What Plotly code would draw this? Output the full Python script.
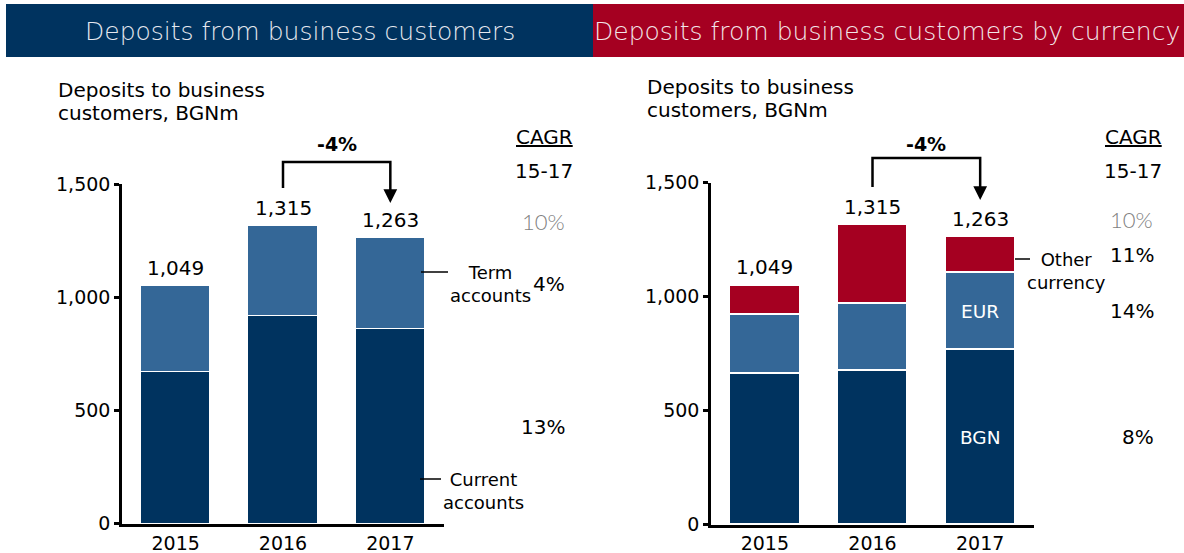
import plotly.graph_objects as go

W, H = 1184, 553

# ---- data -------------------------------------------------------------
years = ["2015", "2016", "2017"]

# left panel: by account type (BGNm)
current_accounts = [671, 918, 858]
term_accounts = [378, 397, 405]

# right panel: by currency (BGNm)
bgn = [660, 675, 766]
eur = [260, 293, 339]
other_currency = [129, 347, 158]

y_ticks = [0, 500, 1000, 1500]
change_label = "-4%"
cagr_left = ["10%", "4%", "13%"]          # total, term, current
cagr_right = ["10%", "11%", "14%", "8%"]  # total, other, EUR, BGN

# ---- styling ----------------------------------------------------------
NAVY = "#00335f"
MIDBLUE = "#346797"
RED = "#a50021"
TXT = "DejaVu Sans"
BAR_W = 0.644


def px(x):
    return x / W


def py(y):
    return 1 - y / H


xs = list(range(len(years)))
totals_left = [c + t for c, t in zip(current_accounts, term_accounts)]
totals_right = [b + e + o for b, e, o in zip(bgn, eur, other_currency)]

fig = go.Figure()


def add_bar(vals, color, xa, ya, name):
    fig.add_trace(go.Bar(
        x=xs, y=vals, name=name, width=BAR_W,
        marker=dict(color=color, line=dict(color="white", width=1.5)),
        xaxis=xa, yaxis=ya, hoverinfo="skip", showlegend=False,
    ))


add_bar(current_accounts, NAVY, "x", "y", "Current accounts")
add_bar(term_accounts, MIDBLUE, "x", "y", "Term accounts")
add_bar(bgn, NAVY, "x2", "y2", "BGN")
add_bar(eur, MIDBLUE, "x2", "y2", "EUR")
add_bar(other_currency, RED, "x2", "y2", "Other currency")

axis_common = dict(
    showgrid=False, zeroline=False, showline=True, linecolor="black",
    automargin=False,
)
xcommon = dict(axis_common, range=[-0.5, 2.5], tickvals=xs, ticktext=years,
               ticks="", linewidth=3,
               tickfont=dict(family=TXT, size=19, color="black"))
ycommon = dict(axis_common, range=[0, 1500], tickvals=y_ticks, tickformat=",",
               ticks="outside", ticklen=5, tickwidth=2.5, tickcolor="black",
               linewidth=2.5,
               tickfont=dict(family=TXT, size=19, color="black"))

annotations = []
shapes = []


def note(text, x, y, xref="paper", yref="paper", size=20, color="black",
         family=TXT, xanchor="center", yanchor="middle", **kw):
    font = dict(family=family, size=size, color=color)
    font.update(kw.pop("font_extra", {}))
    annotations.append(dict(xref=xref, yref=yref, x=x, y=y, text=text,
                            showarrow=False, xanchor=xanchor, yanchor=yanchor,
                            font=font, **kw))


# header bands
shapes.append(dict(type="rect", xref="paper", yref="paper",
                   x0=px(6), x1=px(593), y0=py(57), y1=py(4),
                   fillcolor=NAVY, line=dict(width=0), layer="below"))
shapes.append(dict(type="rect", xref="paper", yref="paper",
                   x0=px(593), x1=px(1184), y0=py(57), y1=py(4),
                   fillcolor=RED, line=dict(width=0), layer="below"))
note("Deposits from business customers", px(300), py(32), size=25,
     color="#e6e9f0", font_extra=dict(weight=300))
note("Deposits from business customers by currency", px(887), py(32), size=25,
     color="#f2e6e9", font_extra=dict(weight=300))


def panel(xa, ya, totals, sub_x, sub_y, cagr_x, line_pts, text_x):
    # two-line subtitle
    note("Deposits to business", px(sub_x), py(sub_y), xanchor="left")
    note("customers, BGNm", px(sub_x), py(sub_y + 23), xanchor="left")
    # totals above bars
    for xi, t in zip(xs, totals):
        note(f"{t:,}", xi, t, xref=xa, yref=ya, yanchor="bottom", yshift=4)
    # CAGR header
    note("<u>CAGR</u>", px(cagr_x), py(137))
    note("15-17", px(cagr_x), py(171))
    # -4% bracket between 2016 and 2017
    y_start, y_top, y_tip = line_pts
    shapes.append(dict(type="path", xref=xa, yref="paper",
                       path=f"M 1,{py(y_start)} L 1,{py(y_top)} L 2,{py(y_top)} L 2,{py(y_tip - 9)}",
                       line=dict(color="black", width=2.5)))
    annotations.append(dict(xref=xa, yref="paper", x=2, y=py(y_tip),
                            ax=0, ay=-12, axref="pixel", ayref="pixel",
                            text="", showarrow=True, arrowhead=2, arrowsize=1.1,
                            arrowwidth=2.5, arrowcolor="black"))
    note(change_label, px(text_x), py(144), size=19, font_extra=dict(weight="bold"))


panel("x", "y", totals_left, 56, 90, 544, (188, 162, 203), 337)
panel("x2", "y2", totals_right, 645, 87, 1133, (187, 158, 200), 926)

last = len(years) - 1

# left CAGR column (right aligned)
note(cagr_left[0], px(567), totals_left[last], yref="y", xanchor="right",
     yshift=16, family="Lato", size=22, color="#7f7f7f",
     font_extra=dict(weight=300))
note(cagr_left[1], px(567), current_accounts[last] + term_accounts[last] / 2,
     yref="y", xanchor="right")
note(cagr_left[2], px(567), current_accounts[last] / 2, yref="y", xanchor="right")

# right CAGR column
note(cagr_right[0], px(1155), totals_right[last], yref="y2", xanchor="right",
     yshift=17, family="Lato", size=22, color="#7f7f7f",
     font_extra=dict(weight=300))
note(cagr_right[1], px(1156), bgn[last] + eur[last] + other_currency[last] / 2,
     yref="y2", xanchor="right")
note(cagr_right[2], px(1156), bgn[last] + eur[last] / 2, yref="y2", xanchor="right")
note(cagr_right[3], px(1156), bgn[last] / 2, yref="y2", xanchor="right")

# in-bar currency labels
note("EUR", last, bgn[last] + eur[last] / 2, xref="x2", yref="y2",
     size=18.5, color="white")
note("BGN", last, bgn[last] / 2, xref="x2", yref="y2", size=18.5, color="white")

# series call-outs with leader lines
callouts = [
    (421, 448, 272, 490, 284, "Term<br>accounts"),
    (420, 441, 479, 483, 491, "Current<br>accounts"),
    (1015, 1030, 259, 1066, 271, "Other<br>currency"),
]
for x0, x1, yl, tx, ty, txt in callouts:
    shapes.append(dict(type="line", xref="paper", yref="paper",
                       x0=px(x0), x1=px(x1), y0=py(yl), y1=py(yl),
                       line=dict(color="black", width=1.5)))
    note(txt, px(tx), py(ty), size=18, align="center")

fig.update_layout(
    width=W, height=H,
    margin=dict(l=0, r=0, t=0, b=0, pad=0, autoexpand=False),
    paper_bgcolor="white", plot_bgcolor="white",
    barmode="stack", bargap=0, showlegend=False,
    xaxis=dict(xcommon, domain=[px(122), px(444)], anchor="y"),
    yaxis=dict(ycommon, domain=[py(523.7), py(184)], anchor="x"),
    xaxis2=dict(xcommon, domain=[px(711), px(1034)], anchor="y2"),
    yaxis2=dict(ycommon, domain=[py(524.5), py(182.7)], anchor="x2"),
    shapes=shapes, annotations=annotations,
)

fig.write_html("out.html")
